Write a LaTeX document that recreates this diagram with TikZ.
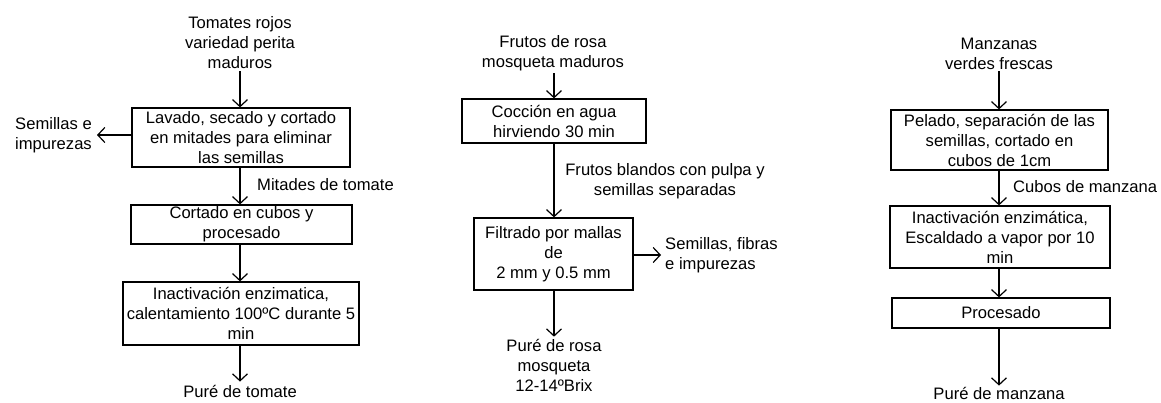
\documentclass[tikz,border=0pt]{standalone}
\usepackage{fontspec}
\setmainfont{Liberation Sans}
\usetikzlibrary{arrows.meta}
\tikzset{
  base/.style={font=\fontsize{16.6}{20}\selectfont, align=center, text=black},
  txt/.style={base, inner sep=2pt},
  stepbox/.style={base, draw=black, line width=1.2pt, inner sep=0pt},
  arr/.style={line width=1.2pt, -{Straight Barb[length=7pt,width=15pt,line width=1.2pt]}},
}
\begin{document}
\begin{tikzpicture}[x=1pt,y=-1pt]
\useasboundingbox (0,0) rectangle (1161,403);
% ---------- left chain ----------
\node[txt] (t0) at (240,43) {Tomates rojos\\variedad perita\\maduros};
\node[stepbox, minimum width=218pt, minimum height=59pt] (t1) at (241,137.5) {Lavado, secado y cortado\\en mitades para eliminar\\las semillas};
\node[txt, align=left, anchor=east, inner sep=5pt] (ts) at (97,135) {Semillas e\\impurezas};
\node[txt, anchor=west, inner sep=0pt] (tl) at (257,185) {Mitades de tomate};
\node[stepbox, minimum width=221pt, minimum height=39pt] (t2) at (241.5,224.5) {Cortado en cubos y\\procesado};
\node[stepbox, minimum width=236pt, minimum height=63pt] (t3) at (241,313.5) {Inactivación enzimatica,\\calentamiento 100ºC durante 5\\min};
\node[txt, inner sep=3pt] (t4) at (240,391) {Puré de tomate};
\draw[arr] (t0.south) -- (t0.south |- t1.north);
\draw[arr] (t1.west |- ts.east) -- (ts.east);
\draw[arr] (t1.south -| t0.south) -- (t0.south |- t2.north);
\draw[arr] (t2.south -| t0.south) -- (t0.south |- t3.north);
\draw[arr] (t3.south -| t0.south) -- (t4.north);
% ---------- middle chain ----------
\node[txt] (m0) at (553,53.5) {Frutos de rosa\\mosqueta maduros};
\node[stepbox, minimum width=184pt, minimum height=44pt] (m1) at (554,121) {Cocción en agua\\hirviendo 30 min};
\node[txt, inner sep=0pt] (ml) at (665,181) {Frutos blandos con pulpa y\\semillas separadas};
\node[stepbox, minimum width=159pt, minimum height=72pt] (m2) at (553.5,254) {Filtrado por mallas\\de\\2 mm y 0.5 mm};
\node[txt, align=left, anchor=west, inner sep=4pt] (ms) at (661,255) {Semillas, fibras\\e impurezas};
\node[txt, inner sep=2pt] (m3) at (554,365) {Puré de rosa\\mosqueta\\12-14ºBrix};
\draw[arr] (m0.south -| m1.north) -- (m1.north);
\draw[arr] (m1.south) -- (m1.south |- m2.north);
\draw[arr] (m2.east |- ms.west) -- (ms.west);
\draw[arr] (m2.south -| m1.south) -- (m3.north -| m1.south);
% ---------- right chain ----------
\node[txt] (r0) at (999,53.5) {Manzanas\\verdes frescas};
\node[stepbox, minimum width=217pt, minimum height=60pt] (r1) at (999.5,140) {Pelado, separación de las\\semillas, cortado en\\cubos de 1cm};
\node[txt, anchor=west, inner sep=0pt] (rl) at (1013,187) {Cubos de manzana};
\node[stepbox, minimum width=220pt, minimum height=62pt] (r2) at (1000,237) {Inactivación enzimática,\\Escaldado a vapor por 10\\min};
\node[stepbox, minimum width=218pt, minimum height=30pt] (r3) at (1001,313) {Procesado};
\node[txt, inner sep=1.5pt] (r4) at (999,393.5) {Puré de manzana};
\draw[arr] (r0.south) -- (r0.south |- r1.north);
\draw[arr] (r1.south -| r0.south) -- (r0.south |- r2.north);
\draw[arr] (r2.south -| r0.south) -- (r0.south |- r3.north);
\draw[arr] (r3.south -| r0.south) -- (r4.north);
\end{tikzpicture}
\end{document}
